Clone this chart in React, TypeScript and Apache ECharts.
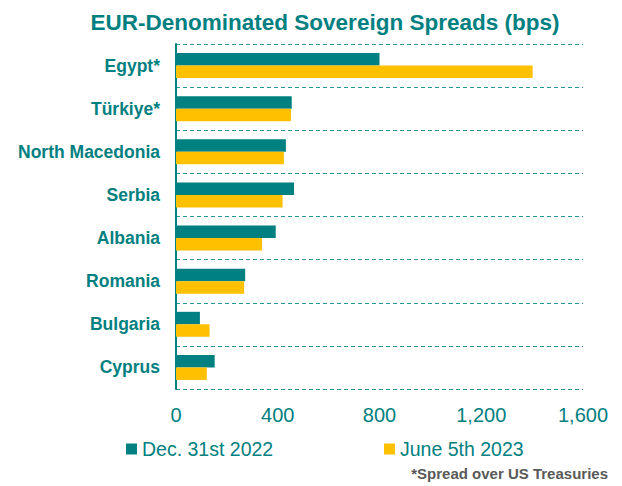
import React, { useEffect, useRef } from "react";
import * as echarts from "echarts";

const countries = [
  "Egypt*",
  "Türkiye*",
  "North Macedonia",
  "Serbia",
  "Albania",
  "Romania",
  "Bulgaria",
  "Cyprus",
];
const dec2022 = [800, 455, 432, 464, 392, 272, 94, 152];
const jun2023 = [1402, 452, 424, 419, 338, 268, 132, 121];
const xTicks = { min: 0, max: 1600, interval: 400 };

const TEAL = "#008080";
const YELLOW = "#FFC000";
const FONT = "'Liberation Sans', Arial, sans-serif";

export default function App() {
  const ref = useRef<HTMLDivElement>(null);
  useEffect(() => {
    document.body.style.margin = "0";
    if (!ref.current) return;
    const chart = echarts.init(ref.current, null, { renderer: "svg" });
    chart.setOption({
      animation: false,
      backgroundColor: "#ffffff",
      title: {
        text: "EUR-Denominated Sovereign Spreads (bps)",
        left: 320,
        textAlign: "center",
        top: 6,
        textStyle: { color: TEAL, fontSize: 22.5, fontWeight: "bold", fontFamily: FONT },
      },
      legend: [
        {
          data: ["Dec. 31st 2022"],
          left: 121,
          top: 434,
          itemWidth: 11,
          itemHeight: 11,
          icon: "rect",
          textStyle: { color: TEAL, fontSize: 19.5, fontFamily: FONT },
        },
        {
          data: ["June 5th 2023"],
          left: 379,
          top: 434,
          itemWidth: 11,
          itemHeight: 11,
          icon: "rect",
          textStyle: { color: TEAL, fontSize: 19.5, fontFamily: FONT },
        },
      ],
      graphic: [
        {
          type: "text",
          right: 14,
          top: 466,
          style: {
            text: "*Spread over US Treasuries",
            fill: "#595959",
            font: `bold 15px ${FONT}`,
          },
        },
      ],
      grid: { left: 176, right: 39, top: 44, bottom: 97 },
      xAxis: {
        type: "value",
        min: xTicks.min,
        max: xTicks.max,
        interval: xTicks.interval,
        axisLine: { show: false },
        axisTick: { show: false },
        splitLine: { show: false },
        axisLabel: {
          color: TEAL,
          fontSize: 20,
          fontFamily: FONT,
          margin: 16,
          formatter: (v: number) => v.toLocaleString("en-US"),
        },
      },
      yAxis: {
        type: "category",
        data: countries,
        inverse: true,
        axisLine: { show: true, lineStyle: { color: TEAL, width: 2 } },
        axisTick: { show: false },
        axisLabel: {
          color: TEAL,
          fontSize: 17.5,
          fontWeight: "bold",
          fontFamily: FONT,
          margin: 16,
        },
        splitLine: {
          show: true,
          lineStyle: { color: "#2a9595", width: 1, type: [4, 3] },
        },
      },
      series: [
        {
          name: "Dec. 31st 2022",
          type: "bar",
          data: dec2022,
          barWidth: 12.5,
          barGap: "0%",
          itemStyle: { color: TEAL },
        },
        {
          name: "June 5th 2023",
          type: "bar",
          data: jun2023,
          barWidth: 12.5,
          barGap: "0%",
          itemStyle: { color: YELLOW },
        },
      ],
    });
    return () => chart.dispose();
  }, []);
  return <div ref={ref} style={{ width: 622, height: 486 }} />;
}
